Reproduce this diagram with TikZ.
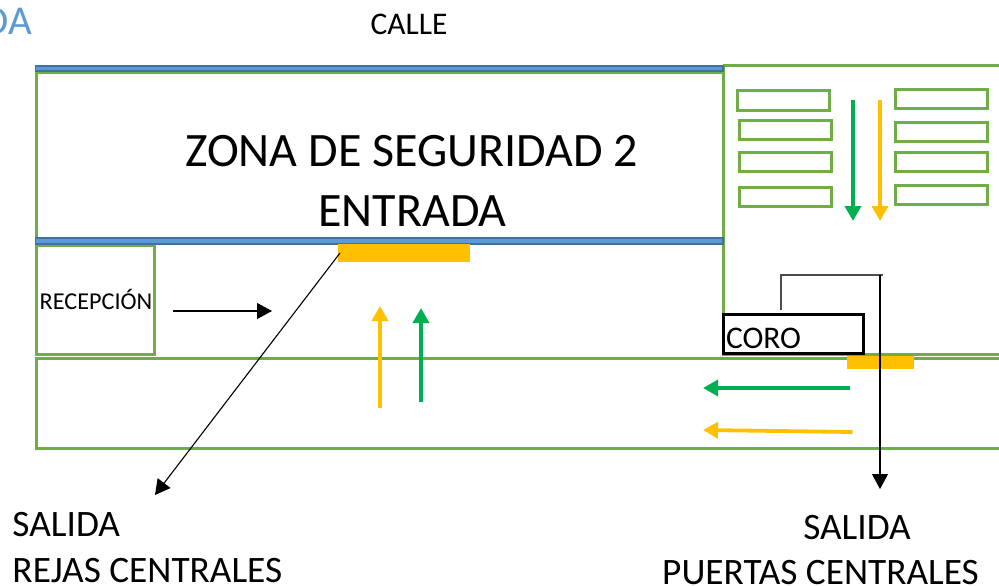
\documentclass[tikz,border=0pt]{standalone}
\usepackage{fontspec}
\setmainfont{Carlito}
\usetikzlibrary{arrows.meta}
\definecolor{gr}{HTML}{70AD47}
\definecolor{blu}{HTML}{5B9BD5}
\definecolor{bluedge}{HTML}{41719C}
\definecolor{yel}{HTML}{FFC000}
\definecolor{arrgreen}{HTML}{00B050}
\tikzset{
  room/.style={draw=gr,line width=3pt,fill=none,inner sep=0pt,outer sep=0pt},
  seat/.style={draw=gr,line width=3pt,fill=white,inner sep=0pt,outer sep=0pt,minimum width=92pt,minimum height=19pt},
  band/.style={draw=bluedge,line width=1.8pt,fill=blu},
  door/.style={fill=yel,draw=none,inner sep=0pt,outer sep=0pt},
  txt/.style={inner sep=0pt,outer sep=0pt,text=black},
  flowgreen/.style={draw=arrgreen,line width=3.8pt,-{Triangle[width=16pt,length=15pt]}},
  flowyellow/.style={draw=yel,line width=3.8pt,-{Triangle[width=16pt,length=15pt]}},
  pointer/.style={draw=black,line width=1.1pt,-{Triangle[width=16pt,length=15pt]}},
  leader/.style={draw=black!70,line width=1.4pt}
}
\begin{document}
\begin{tikzpicture}[x=1pt,y=-1pt]
\useasboundingbox (0,0) rectangle (999,586);
\clip (0,0) rectangle (999,586);
% titles
\node[anchor=base east,inner sep=0pt,text=blu,font=\fontsize{41}{41}\selectfont] (title) at (32,35) {DA};
\node[txt,anchor=base,font=\fontsize{31.5}{31.5}\selectfont] (calle) at (409,35) {CALLE};
% rooms
\draw[room] (723,66) -- (1005,66);
\draw[room] (723,66) -- (723,354) -- (1005,354);
\draw[room] (36,72.5) rectangle (723,240);
\draw[room] (36,358) rectangle (1005,448);
\draw[room] (36,245) rectangle (154,354);
% blue bands
\draw[band] (35.5,66) rectangle (723,71);
\draw[band] (35.5,238) rectangle (723,244);
% doors
\node[door,minimum width=132pt,minimum height=18pt] (rejas) at (404,253) {};
\node[door,minimum width=67pt,minimum height=13pt] (puertas) at (880.5,362.5) {};
% seats
\node[seat] (s1) at (783.5,100.5) {};
\node[seat] (s2) at (785,130) {};
\node[seat] (s3) at (785,162) {};
\node[seat] (s4) at (785,197) {};
\node[seat] (s5) at (941.5,99) {};
\node[seat] (s6) at (941.5,132) {};
\node[seat] (s7) at (941.5,162) {};
\node[seat] (s8) at (941.5,195) {};
% coro
\node[draw=black,line width=2.6pt,fill=white,minimum width=140pt,minimum height=39pt,inner sep=0pt,outer sep=0pt] (coro) at (793.5,334) {};
\node[txt,anchor=base west,font=\fontsize{31.5}{31.5}\selectfont] (corot) at (726,348) {CORO};
% text
\node[txt,anchor=base,font=\fontsize{48}{48}\selectfont] (zona) at (411.5,166) {ZONA DE SEGURIDAD 2};
\node[txt,anchor=base,font=\fontsize{48}{48}\selectfont] (entrada) at (412.5,226) {ENTRADA};
\node[txt,anchor=base,font=\fontsize{24.2}{24.2}\selectfont] (recep) at (96,309) {RECEPCIÓN};
\node[txt,anchor=base west,font=\fontsize{37.3}{37.3}\selectfont] (salL) at (12.5,536) {SALIDA};
\node[txt,anchor=base west,font=\fontsize{37.3}{37.3}\selectfont] (rejasT) at (12.5,582) {REJAS CENTRALES};
\node[txt,anchor=base,font=\fontsize{37.3}{37.3}\selectfont] (salR) at (857,539) {SALIDA};
\node[txt,anchor=base,font=\fontsize{37.3}{37.3}\selectfont] (puertasT) at (820.5,584) {PUERTAS CENTRALES};
% anchors of the flows
\coordinate (g1a) at (853,100); \coordinate (g1b) at (853,221);
\coordinate (y1a) at (880,100); \coordinate (y1b) at (880,221);
\coordinate (y2a) at (380,408); \coordinate (y2b) at (380,306);
\coordinate (g2a) at (421,402); \coordinate (g2b) at (421,308);
\coordinate (g3a) at (850,388); \coordinate (g3b) at (703,388);
\coordinate (y3a) at (852.5,432); \coordinate (y3b) at (703,430);
\coordinate (ra) at (173,311); \coordinate (rb) at (272,311);
\coordinate (da) at (340,253); \coordinate (db) at (155,495);
\coordinate (l1) at (781,310); \coordinate (l2) at (781,275);
\coordinate (l3) at (880,275); \coordinate (l4) at (883,275); \coordinate (l5) at (880,489);
% flows
\draw[flowgreen] (g1a) -- (g1b);
\draw[flowyellow] (y1a) -- (y1b);
\draw[flowyellow] (y2a) -- (y2b);
\draw[flowgreen] (g2a) -- (g2b);
\draw[flowgreen] (g3a) -- (g3b);
\draw[flowyellow] (y3a) -- (y3b);
\draw[pointer] (ra) -- (rb);
\draw[pointer] (da) -- (db);
\draw[leader] (l1) -- (l2) -- (l4);
\draw[pointer] (l3) -- (l5);
\end{tikzpicture}
\end{document}
